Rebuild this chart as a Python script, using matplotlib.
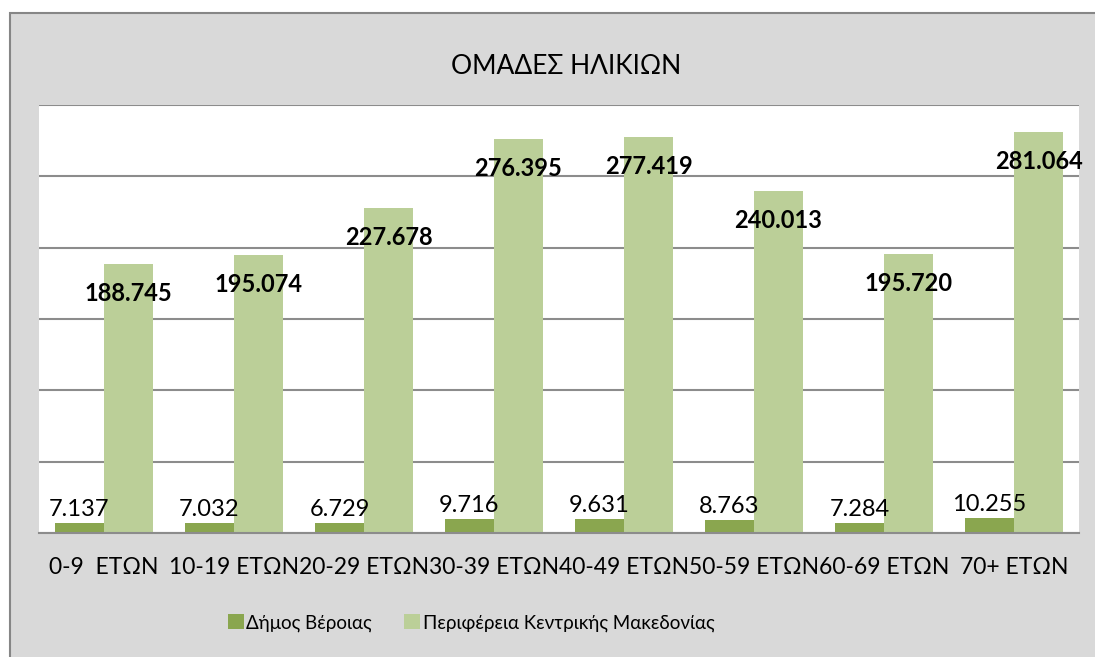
import matplotlib
matplotlib.use("Agg")
import matplotlib.pyplot as plt
from matplotlib.patches import Rectangle, Patch

plt.rcParams['font.family'] = ['Lato', 'Open Sans', 'DejaVu Sans']

# Data
categories = ["0-9  ΕΤΩΝ", "10-19 ΕΤΩΝ", "20-29 ΕΤΩΝ", "30-39 ΕΤΩΝ",
              "40-49 ΕΤΩΝ", "50-59 ΕΤΩΝ", "60-69 ΕΤΩΝ", "70+ ΕΤΩΝ"]
veroia = [7137, 7032, 6729, 9716, 9631, 8763, 7284, 10255]
kentriki_makedonia = [188745, 195074, 227678, 276395, 277419, 240013, 195720, 281064]
series_names = ["Δήμος Βέροιας", "Περιφέρεια Κεντρικής Μακεδονίας"]

dark_green = "#8aa64f"
light_green = "#bbcf98"
bg_grey = "#d9d9d9"
line_grey = "#8c8c8c"


def fmt(v):
    return f"{v:,}".replace(",", ".")


W, H = 1095, 657
fig = plt.figure(figsize=(W / 100, H / 100), dpi=100, facecolor="white")

# chart area (grey box, cropped on the right and bottom)
fig.patches.append(Rectangle((10 / W, -0.05), 1.2, (H - 13) / H + 0.05,
                             transform=fig.transFigure, facecolor=bg_grey,
                             edgecolor="#868686", linewidth=1.5, zorder=0))

left, right, top, bottom = 39, 1079, 105, 533
ax = fig.add_axes([left / W, (H - bottom) / H, (right - left) / W, (bottom - top) / H])
ax.set_zorder(2)
ax.set_facecolor("white")

x = list(range(len(categories)))
w = 0.377
b1 = ax.bar([i - w / 2 for i in x], veroia, width=w, color=dark_green, zorder=3)
b2 = ax.bar([i + w / 2 for i in x], kentriki_makedonia, width=w, color=light_green, zorder=3)

ax.set_xlim(-0.5, len(categories) - 0.5)
ax.set_ylim(0, 300000)
ax.set_yticks(range(0, 300001, 50000))
ax.yaxis.grid(True, color=line_grey, linewidth=1.5, zorder=1)
ax.set_axisbelow(True)
ax.tick_params(axis="y", left=False, labelleft=False)
for s in ["left", "right", "top"]:
    ax.spines[s].set_visible(False)
ax.spines["bottom"].set_color(line_grey)
ax.spines["bottom"].set_linewidth(1.5)
ax.spines["bottom"].set_zorder(4)

ax.set_xticks(x)
ax.set_xticklabels(categories, fontsize=16.5, color="black")
ax.tick_params(axis="x", length=0, pad=17.5)

# value labels
for rect, v in zip(b1, veroia):
    ax.annotate(fmt(v), (rect.get_x() + rect.get_width() / 2, v),
                xytext=(0, 7), textcoords="offset pixels",
                ha="center", va="baseline", fontsize=17, color="black", zorder=5)
for rect, v in zip(b2, kentriki_makedonia):
    ax.annotate(fmt(v), (rect.get_x() + rect.get_width() / 2, v),
                xytext=(0, -37), textcoords="offset pixels",
                ha="center", va="baseline", fontsize=17, fontweight="bold",
                color="black", zorder=5, annotation_clip=False)

fig.text(566 / W, 1 - 66 / H, "ΟΜΑΔΕΣ ΗΛΙΚΙΩΝ", ha="center", va="center", fontsize=19)

handles = [Patch(facecolor=dark_green), Patch(facecolor=light_green)]
fig.legend(handles, series_names, loc="center", bbox_to_anchor=(471 / W, 1 - 623 / H),
           ncol=2, frameon=False, fontsize=13.5, handlelength=0.85, handleheight=0.85,
           handletextpad=0.15, columnspacing=1.7)

fig.savefig("out.png", dpi=100, facecolor=fig.get_facecolor())
